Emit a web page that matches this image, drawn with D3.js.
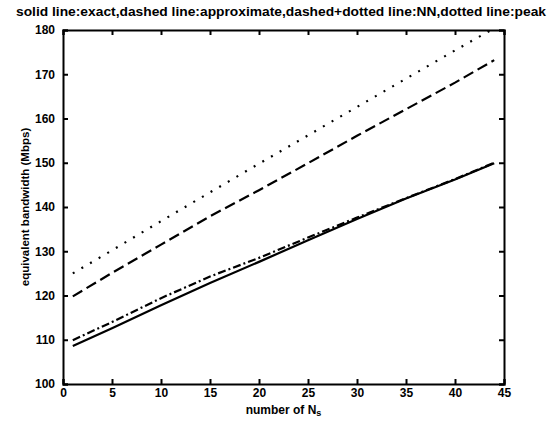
<!DOCTYPE html>
<html><head><meta charset="utf-8">
<script src="https://cdn.jsdelivr.net/npm/d3@7"></script>
<style>body{margin:0;background:#fff}svg{display:block}text{font-family:"Liberation Sans",Arial,sans-serif;font-weight:bold;fill:#000}</style>
</head><body><div id="chart"></div>
<script>
const titleText = "solid line:exact,dashed line:approximate,dashed+dotted line:NN,dotted line:peak";
const xLabel = "number of N";
const xLabelSub = "s";
const yLabel = "equivalent bandwidth (Mbps)";
const xTicks = [0,5,10,15,20,25,30,35,40,45];
const yTicks = [100,110,120,130,140,150,160,170,180];
const nValues = [1,5,10,15,20,25,30,35,40,44];
const exact = [108.6,112.6,117.8,122.8,127.6,132.5,137.3,141.9,146.2,149.9];
const approximate = [119.8,125.1,131.5,137.9,143.8,149.9,156.1,162.1,168.1,173.2];
const nn = [109.9,114.0,119.4,124.3,128.5,133.1,137.6,142.0,146.3,150.0];
const peak = [125.0,130.2,136.8,143.3,149.8,156.2,162.6,169.0,175.4,180.4];

const W = 558, H = 432;
const m = {left:63, right:54, top:30, bottom:48};
const svg = d3.select("#chart").append("svg").attr("width",W).attr("height",H);
const x = d3.scaleLinear().domain([0,45]).range([m.left, W-m.right]);
const y = d3.scaleLinear().domain([100,180]).range([H-m.bottom, m.top]);

svg.append("defs").append("clipPath").attr("id","clip").append("rect")
  .attr("x",x(0)).attr("y",y(180)).attr("width",x(45)-x(0)).attr("height",y(100)-y(180));

const tl = 5;
const gB = svg.append("g").attr("transform",`translate(0,${y(100)})`)
  .call(d3.axisBottom(x).tickValues(xTicks).tickSize(-tl).tickPadding(4).tickFormat(d3.format("d")));
const gT = svg.append("g").attr("transform",`translate(0,${y(180)})`)
  .call(d3.axisTop(x).tickValues(xTicks).tickSize(-tl).tickFormat(""));
const gL = svg.append("g").attr("transform",`translate(${x(0)},0)`)
  .call(d3.axisLeft(y).tickValues(yTicks).tickSize(-tl).tickPadding(8).tickFormat(d3.format("d")));
const gR = svg.append("g").attr("transform",`translate(${x(45)},0)`)
  .call(d3.axisRight(y).tickValues(yTicks).tickSize(-tl).tickFormat(""));
[gB,gT,gL,gR].forEach(g=>{
  g.select(".domain").attr("stroke","#000").attr("stroke-width",2);
  g.selectAll(".tick line").attr("stroke","#000").attr("stroke-width",2);
  g.selectAll("text").style("font-size","12px").style("font-weight","bold").attr("fill","#000");
});
gB.selectAll("text").attr("dy","0.71em");

const line = d3.line().x((d,i)=>x(nValues[i])).y(d=>y(d));
const plot = svg.append("g").attr("clip-path","url(#clip)");
const series = [
  {data:exact, dash:null},
  {data:nn, dash:"8,3,2,3"},
  {data:approximate, dash:"11,5"},
  {data:peak, dash:"2,8"}
];
series.forEach(s=>{
  plot.append("path").datum(s.data).attr("d",line)
    .attr("fill","none").attr("stroke","#000").attr("stroke-width",2.2)
    .attr("stroke-dasharray",s.dash);
});

svg.append("text").attr("x",16).attr("y",16).attr("textLength",530).attr("lengthAdjust","spacingAndGlyphs")
  .style("font-size","12px").text(titleText);

const xl = svg.append("text").attr("x",(x(0)+x(45))/2).attr("y",414).attr("text-anchor","middle").style("font-size","12px");
xl.append("tspan").text(xLabel);
xl.append("tspan").attr("dy",2).style("font-size","9px").text(xLabelSub);

svg.append("text").attr("transform",`translate(29,${(y(100)+y(180))/2}) rotate(-90)`)
  .attr("text-anchor","middle").style("font-size","11.5px").text(yLabel);
</script></body></html>
